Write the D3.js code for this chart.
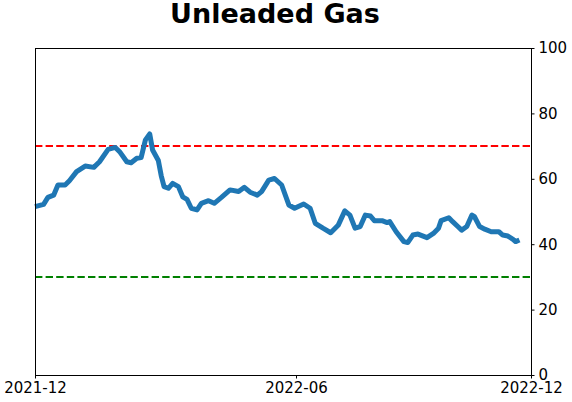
<!DOCTYPE html>
<html><head><meta charset="utf-8">
<script src="https://cdn.jsdelivr.net/npm/d3@7"></script>
<style>body{margin:0;background:#fff}svg{display:block}text{font-family:"DejaVu Sans",sans-serif}</style>
</head><body><svg id="c" width="572" height="402"></svg>
<script>
const title = "Unleaded Gas";
const dates = ["2021-12-01","2021-12-07","2021-12-10","2021-12-14","2021-12-17","2021-12-22","2021-12-25","2021-12-30",
"2022-01-05","2022-01-11","2022-01-15","2022-01-21","2022-01-26","2022-01-29","2022-02-03","2022-02-06","2022-02-10","2022-02-13",
"2022-02-16","2022-02-19","2022-02-21","2022-02-25","2022-02-27","2022-03-01","2022-03-04","2022-03-07","2022-03-11","2022-03-14",
"2022-03-17","2022-03-20","2022-03-24","2022-03-27","2022-04-01","2022-04-05","2022-04-10","2022-04-16","2022-04-22","2022-04-26",
"2022-04-30","2022-05-05","2022-05-08","2022-05-13","2022-05-17","2022-05-22","2022-05-27","2022-05-31","2022-06-07","2022-06-12",
"2022-06-16","2022-06-22","2022-06-28","2022-07-04","2022-07-09","2022-07-13","2022-07-17","2022-07-21","2022-07-25","2022-07-29",
"2022-08-01","2022-08-07","2022-08-11","2022-08-13","2022-08-18","2022-08-24","2022-08-27","2022-08-31","2022-09-04","2022-09-11",
"2022-09-16","2022-09-20","2022-09-22","2022-09-28","2022-10-01","2022-10-05","2022-10-08","2022-10-12","2022-10-16","2022-10-18",
"2022-10-22","2022-10-26","2022-10-31","2022-11-06","2022-11-09","2022-11-13","2022-11-17","2022-11-19","2022-11-22"];
const values = [51.5,52.2,54.3,55,58.1,58.1,59.4,62.2,
63.9,63.5,65.2,69,69.6,68.3,65.2,64.9,66.3,66.5,
71.9,73.7,68.8,65.6,61,57.6,57.1,58.6,57.6,54.5,
53.7,51,50.5,52.5,53.3,52.5,54.3,56.6,56.1,57.4,
55.9,55,56.1,59.6,60.1,58.1,52,51,52.3,51,
46.4,44.9,43.5,45.9,50.2,48.9,44.9,45.4,48.9,48.6,
47.2,47.2,46.6,46.9,43.8,40.8,40.5,42.8,43.1,42,
43.3,44.9,47.2,48.1,46.9,45.4,44.3,45.4,48.9,48.4,
45.4,44.6,43.8,43.8,42.8,42.5,41.5,40.8,41.3];
const xTickDates = ["2021-12-01","2022-06-01","2022-12-01"];
const xTickLabels = ["2021-12","2022-06","2022-12"];
const yTicks = [0,20,40,60,80,100];
const upperLevel = 70, lowerLevel = 30;

const parse = d3.timeParse("%Y-%m-%d");
const L = 35, R = 531, T = 48, B = 375;
const svg = d3.select("#c");
const x = d3.scaleTime().domain(xTickDates.map(parse)).range([L, 296, R]);
const y = d3.scaleLinear().domain([0, 100]).range([B, T]);

svg.append("text").attr("x", 275).attr("y", 23).attr("text-anchor", "middle")
  .attr("font-size", 27).attr("font-weight", "bold").text(title);

const g = svg.append("g");
g.append("line").attr("x1", L).attr("x2", R).attr("y1", y(upperLevel)).attr("y2", y(upperLevel))
  .attr("stroke", "#ff0000").attr("stroke-width", 2).attr("stroke-dasharray", "7.4,3.2");
g.append("line").attr("x1", L).attr("x2", R).attr("y1", y(lowerLevel)).attr("y2", y(lowerLevel))
  .attr("stroke", "#008000").attr("stroke-width", 2).attr("stroke-dasharray", "7.4,3.2");

const data = dates.map((d, i) => ({d: parse(d), v: values[i]}));
g.append("path").datum(data).attr("fill", "none").attr("stroke", "#1f77b4").attr("stroke-width", 5)
  .attr("stroke-linejoin", "round").attr("stroke-linecap", "butt")
  .attr("d", d3.line().x(p => x(p.d)).y(p => y(p.v)));

svg.append("rect").attr("x", L).attr("y", T).attr("width", R - L).attr("height", B - T)
  .attr("fill", "none").attr("stroke", "#000").attr("stroke-width", 1).attr("shape-rendering", "crispEdges");

const xa = svg.append("g").attr("transform", `translate(0,${B})`)
  .call(d3.axisBottom(x).tickValues(xTickDates.map(parse)).tickFormat((d, i) => xTickLabels[i]).tickSize(3.5).tickPadding(4));
const ya = svg.append("g").attr("transform", `translate(${R},0)`)
  .call(d3.axisRight(y).tickValues(yTicks).tickSize(3.5).tickPadding(4));
[xa, ya].forEach(a => {
  a.select(".domain").remove();
  a.selectAll("text").attr("font-size", 15).attr("font-family", "DejaVu Sans").attr("fill", "#000");
  a.selectAll("line").attr("stroke", "#000");
});
</script></body></html>
